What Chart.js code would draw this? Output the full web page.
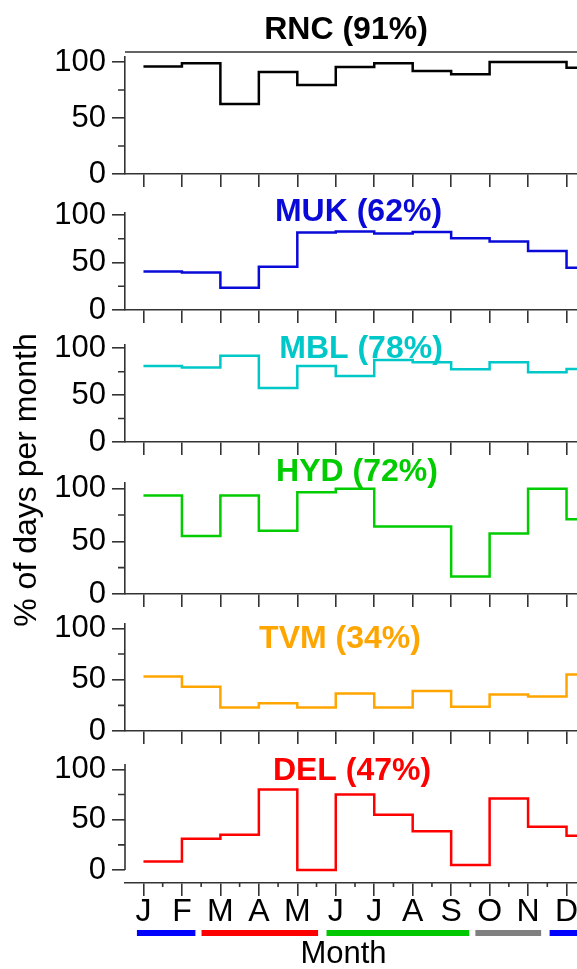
<!DOCTYPE html>
<html>
<head>
<meta charset="utf-8">
<script src="https://cdn.jsdelivr.net/npm/chart.js@4.4.1/dist/chart.umd.min.js"></script>
<style>
  html, body { margin: 0; padding: 0; background: #fff; }
  #wrap { position: relative; width: 577px; height: 969px; overflow: hidden; background: #fff; }
  #wrap canvas { position: absolute; left: 0; top: 0; }
</style>
</head>
<body>
<div id="wrap">
  <canvas id="c0" width="640" height="969"></canvas>
  <canvas id="c1" width="640" height="969"></canvas>
  <canvas id="c2" width="640" height="969"></canvas>
  <canvas id="c3" width="640" height="969"></canvas>
  <canvas id="c4" width="640" height="969"></canvas>
  <canvas id="c5" width="640" height="969"></canvas>
</div>
<script>
// data
var months = ["J", "F", "M", "A", "M", "J", "J", "A", "S", "O", "N", "D"];
var stations = ["RNC (91%)", "MUK (62%)", "MBL (78%)", "HYD (72%)", "TVM (34%)", "DEL (47%)"];
var rnc = [96, 99, 62.5, 91, 79.5, 95.5, 99, 92, 89, 100, 100, 95];
var muk = [40.5, 39.5, 23.5, 45.5, 81.5, 82.5, 80.5, 82, 75.5, 72, 62, 44.5];
var mbl = [81, 79.5, 92, 57.5, 81, 70.5, 87.5, 85, 77.5, 85, 74.5, 78];
var hyd = [93.5, 55, 93.5, 60, 96.5, 100, 64, 64, 16.5, 57.5, 100, 71];
var tvm = [53, 43, 23, 27, 23, 36.5, 23, 39, 23.5, 35.5, 33.5, 55];
var del = [8.5, 31, 35, 80, 0, 75, 55, 38.5, 5, 71, 43, 34];
var series = [rnc, muk, mbl, hyd, tvm, del];
var yTicks = [0, 50, 100];
var yMinor = [25, 75];

// seasons bar under the month axis (in month units)
var seasonStart = [-0.17, 1.51, 4.76, 8.63, 10.56];
var seasonEnd = [1.35, 4.54, 8.47, 10.34, 12.5];
var seasonColor = ["#0000ff", "#ff0000", "#00c800", "#808080", "#0000ff"];

// styles / layout
var colors = ["#000000", "#0a0ad8", "#00c8c8", "#00cc00", "#ffa500", "#ff0000"];
var family = "'Liberation Sans', Arial, sans-serif";
var axisColor = "#333";
var axisWidth = 1.6;
var H = 969;
var panelTop = [57, 213, 345, 483, 624, 764];
var panelBottom = [174, 310, 442, 594, 731, 883];
var yMin = [0, 0, 0, 0, 0, -12.9];
var yMax = [104.5, 102.1, 103.5, 105.4, 104.2, 105.3];
var titleX = [346, 358.5, 361, 357, 340, 352];
var titleY = [30, 212, 349, 472, 639, 771];

Chart.defaults.font.family = family;

var decor = {
  id: 'decor',
  afterDraw: function (chart, args, o) {
    var ctx = chart.ctx, a = chart.chartArea, x = chart.scales.x, y = chart.scales.y;
    ctx.save();
    ctx.strokeStyle = axisColor;
    ctx.lineWidth = axisWidth;
    ctx.beginPath();
    yMinor.forEach(function (v) {
      var py = y.getPixelForValue(v);
      ctx.moveTo(a.left - 7, py);
      ctx.lineTo(a.left, py);
    });
    if (o.frameTop != null) {
      var fy = y.getPixelForValue(o.frameTop);
      ctx.moveTo(a.left, fy);
      ctx.lineTo(chart.width, fy);
    }
    if (o.bottom) {
      // y axis stops at 0, month axis sits a bit lower
      ctx.moveTo(a.left, y.getPixelForValue(0));
      ctx.lineTo(a.left, a.top);
      for (var i = 0; i <= months.length; i++) {
        var px = x.getPixelForValue(i + 0.5);
        ctx.moveTo(px, a.bottom);
        ctx.lineTo(px, a.bottom + 4);
      }
    }
    ctx.stroke();

    if (o.bottom) {
      seasonStart.forEach(function (s, i) {
        var x0 = x.getPixelForValue(s), x1 = x.getPixelForValue(seasonEnd[i]);
        ctx.fillStyle = seasonColor[i];
        ctx.fillRect(x0, a.bottom + 47, x1 - x0, 6);
      });
      ctx.fillStyle = "#000";
      ctx.textAlign = "center";
      ctx.textBaseline = "middle";
      ctx.font = "31px " + family;
      ctx.fillText("Month", 343.5, 954);
      ctx.save();
      ctx.translate(27, 480);
      ctx.rotate(-Math.PI / 2);
      ctx.font = "32px " + family;
      ctx.fillText("% of days per month", 0, 0);
      ctx.restore();
    }

    ctx.fillStyle = o.color;
    ctx.font = "bold 32px " + family;
    ctx.textAlign = "center";
    ctx.textBaseline = "middle";
    ctx.fillText(o.title, o.tx, o.ty);
    ctx.restore();
  }
};

series.forEach(function (vals, p) {
  var last = p === series.length - 1;
  var xh = last ? 86 : 15;
  var pts = vals.map(function (v, i) { return {x: i, y: v}; });
  pts.push({x: vals.length, y: vals[vals.length - 1]});

  new Chart(document.getElementById('c' + p), {
    type: 'line',
    data: {
      datasets: [{
        data: pts,
        borderColor: colors[p],
        borderWidth: 2.5,
        stepped: 'before',
        pointRadius: 0,
        fill: false
      }]
    },
    options: {
      responsive: false,
      animation: false,
      layout: { padding: { top: panelTop[p], bottom: H - panelBottom[p] - xh, left: 0, right: 0 } },
      plugins: {
        legend: { display: false },
        tooltip: { enabled: false },
        decor: {
          title: stations[p], color: colors[p], tx: titleX[p], ty: titleY[p],
          frameTop: p === 0 ? 108.9 : null, bottom: last
        }
      },
      scales: {
        x: {
          type: 'linear',
          min: -0.48,
          max: 12.91,
          afterFit: function (s) { s.height = xh; },
          border: { display: true, color: axisColor, width: axisWidth },
          grid: { drawOnChartArea: false, tickLength: 13, tickColor: axisColor, tickWidth: axisWidth, lineWidth: axisWidth },
          ticks: {
            display: last,
            stepSize: 1,
            includeBounds: false,
            autoSkip: false,
            maxRotation: 0,
            padding: 0,
            color: "#000",
            font: { size: 32, lineHeight: 1 },
            callback: function (v) { return months[v] || ''; }
          }
        },
        y: {
          min: yMin[p],
          max: yMax[p],
          afterFit: function (s) { s.width = 125; },
          afterBuildTicks: function (s) { s.ticks = yTicks.map(function (v) { return {value: v}; }); },
          border: { display: !last, color: axisColor, width: axisWidth },
          grid: { drawOnChartArea: false, tickLength: 13, tickColor: axisColor, tickWidth: axisWidth, lineWidth: axisWidth },
          ticks: { padding: 6, color: "#000", font: { size: 31 } }
        }
      }
    },
    plugins: [decor]
  });
});
</script>
</body>
</html>
